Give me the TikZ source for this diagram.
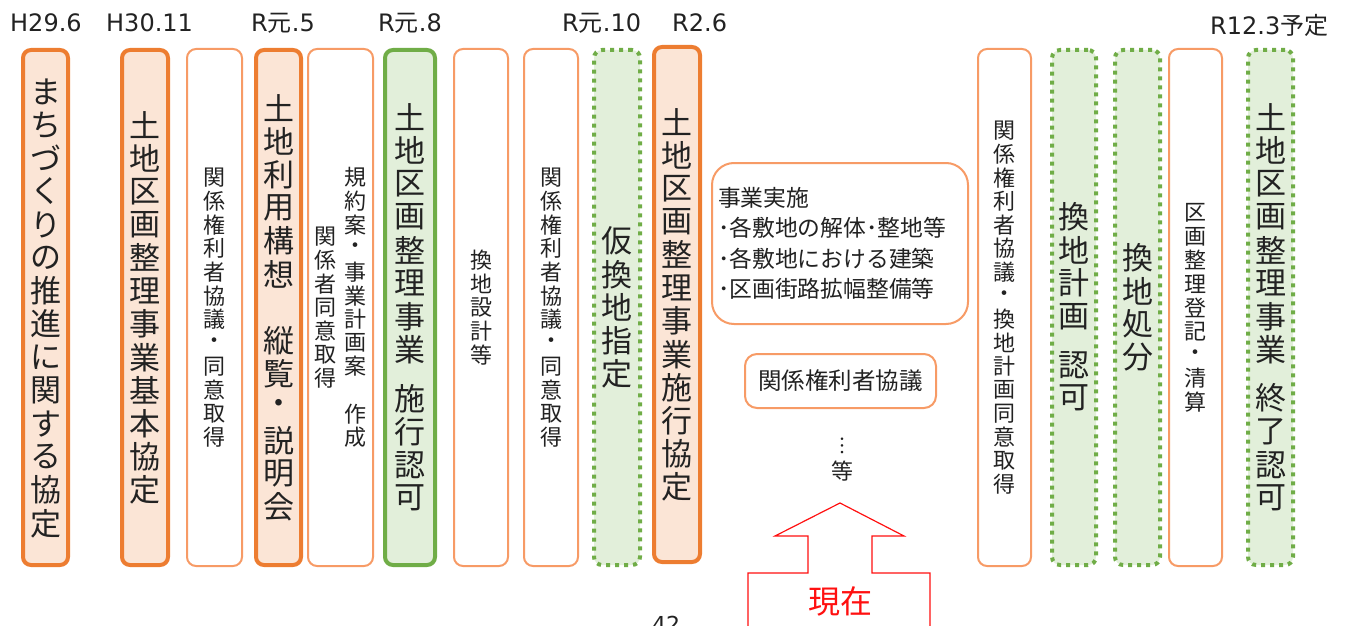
\documentclass[tikz,border=0pt]{standalone}
\usepackage{fontspec}
\setmainfont{Noto Sans CJK JP}
\newfontfamily\lat{DejaVu Sans}
\definecolor{orT}{HTML}{ED7D31}
\definecolor{orF}{HTML}{FBE5D6}
\definecolor{orL}{HTML}{F79B66}
\definecolor{grT}{HTML}{70AD47}
\definecolor{grF}{HTML}{E2EFDA}
\definecolor{txt}{HTML}{222222}
\definecolor{redA}{HTML}{FF1010}
\ExplSyntaxOn
\NewDocumentCommand \vt { m m }
 {
  \vbox:n
   {
    \offinterlineskip
    \tl_map_inline:nn {#2}
     {
      \str_if_eq:nnTF {##1} {|}
       { \skip_vertical:n { 0.5em } }
       { \hbox_to_wd:nn {1em} { \hss \vbox_to_ht:nn {#1} { \vss \hbox:n {##1} \vss } \hss } }
     }
   }
 }
\ExplSyntaxOff
\begin{document}
\begin{tikzpicture}[x=1pt,y=-1pt,
  tob/.style={draw=orT, line width=4pt, fill=orF, rounded corners=8pt, inner sep=0pt, minimum height=515pt},
  tgb/.style={draw=grT, line width=4pt, fill=grF, rounded corners=8pt, inner sep=0pt, minimum height=515pt},
  dgb/.style={draw=grT, line width=4pt, fill=grF, rounded corners=8pt, dash pattern=on 4pt off 5pt, inner sep=0pt, minimum height=515pt},
  thb/.style={draw=orL, line width=2pt, fill=white, rounded corners=9pt, inner sep=0pt, minimum height=517pt},
  big/.style={font=\fontsize{31}{33}\selectfont, text=txt},
  sml/.style={font=\fontsize{22}{24}\selectfont, text=txt},
  lbl/.style={font=\fontsize{24}{26}\selectfont, text=txt, inner sep=0pt, anchor=base west},
  midtxt/.style={font=\fontsize{22.8}{30.5}\selectfont, text=txt},
]
\useasboundingbox (0,0) rectangle (1347,626);
\begin{scope}
\clip (0,0) rectangle (1347,626);

% date labels
\node[lbl] (l1) at (10,32) {\lat H29.6};
\node[lbl] (l2) at (106,32) {\lat H30.11};
\node[lbl] (l3) at (251,32) {{\lat R}元{\lat .5}};
\node[lbl] (l4) at (378,32) {{\lat R}元{\lat .8}};
\node[lbl] (l5) at (562,32) {{\lat R}元{\lat .10}};
\node[lbl] (l6) at (672,32) {\lat R2.6};
\node[lbl] (l7) at (1210,35) {{\lat R12.3}予定};

% left boxes
\node[tob, big, minimum width=45pt] (b1) at (45.5,307.5) {\vt{33.2pt}{まちづくりの推進に関する協定}};
\node[tob, big, minimum width=46pt] (b2) at (145,307.5) {\vt{33.2pt}{土地区画整理事業基本協定}};
\node[thb, sml, minimum width=55pt] (b3) at (214.5,307.5) {\vt{23.6pt}{関係権利者協議・同意取得}};
\node[tob, big, minimum width=45pt] (b4) at (278.5,307.5) {\vt{33.2pt}{土地利用構想　縦覧・説明会}};
\node[thb, sml, minimum width=65pt] (b5) at (340.5,307.5) {$\vcenter{\vt{23.6pt}{関係者同意取得}}$\kern8pt$\vcenter{\vt{23.6pt}{規約案・事業計画案　作成}}$};
\node[tgb, big, minimum width=50pt] (b6) at (410,307.5) {\vt{33.2pt}{土地区画整理事業|施行認可}};
\node[thb, sml, minimum width=54pt] (b7) at (481,307.5) {\vt{23.6pt}{換地設計等}};
\node[thb, sml, minimum width=54pt] (b8) at (551,307.5) {\vt{23.6pt}{関係権利者協議・同意取得}};
\node[dgb, big, minimum width=46pt] (b9) at (617,307.5) {\vt{33.2pt}{仮換地指定}};
\node[tob, big, minimum width=46pt] (b10) at (677,304.5) {\vt{33.2pt}{土地区画整理事業施行協定}};

% middle
\node[draw=orL, line width=2pt, fill=white, rounded corners=22pt, inner sep=0pt,
      minimum width=256pt, minimum height=161pt, text width=244pt, align=left, midtxt] (jb) at (840,243.5)
      {事業実施\\･各敷地の解体･整地等\\･各敷地における建築\\･区画街路拡幅整備等};
\node[draw=orL, line width=2pt, fill=white, rounded corners=12pt, inner sep=0pt,
      minimum width=191pt, minimum height=54pt, font=\fontsize{23.5}{25}\selectfont, text=txt] (kb) at (840.5,381) {関係権利者協議};
\node[font=\fontsize{20}{22}\selectfont, text=txt, inner sep=0pt] (dots) at (842,446) {︙};
\node[font=\fontsize{22}{24}\selectfont, text=txt, inner sep=0pt] (etc) at (842,471) {等};
\coordinate (a1) at (748,640);
\coordinate (a2) at (930,640);
\draw[redA, line width=1.2pt, line join=miter]
  (a1) -- (748,573) -- (808,573) -- (808,536) -- (775,536) -- (840,503)
  -- (904,536) -- (872,536) -- (872,573) -- (930,573) -- (a2);
\node[font=\fontsize{32}{34}\selectfont, text=redA, inner sep=0pt] (now) at (840,601) {現在};
\node[font=\fontsize{22}{24}\selectfont, text=txt, inner sep=0pt, anchor=north] (pg) at (666,616) {\lat 42};

% right boxes
\node[thb, sml, minimum width=53pt] (b11) at (1004.5,307.5) {\vt{23.6pt}{関係権利者協議・換地計画同意取得}};
\node[dgb, big, minimum width=44pt] (b12) at (1074,307.5) {\vt{33.2pt}{換地計画|認可}};
\node[dgb, big, minimum width=45pt] (b13) at (1137.5,307.5) {\vt{33.2pt}{換地処分}};
\node[thb, sml, minimum width=53pt] (b14) at (1195.5,307.5) {\vt{23.6pt}{区画整理登記・清算}};
\node[dgb, big, minimum width=45pt] (b15) at (1270.5,307.5) {\vt{33.2pt}{土地区画整理事業|終了認可}};
\end{scope}
\end{tikzpicture}
\end{document}
